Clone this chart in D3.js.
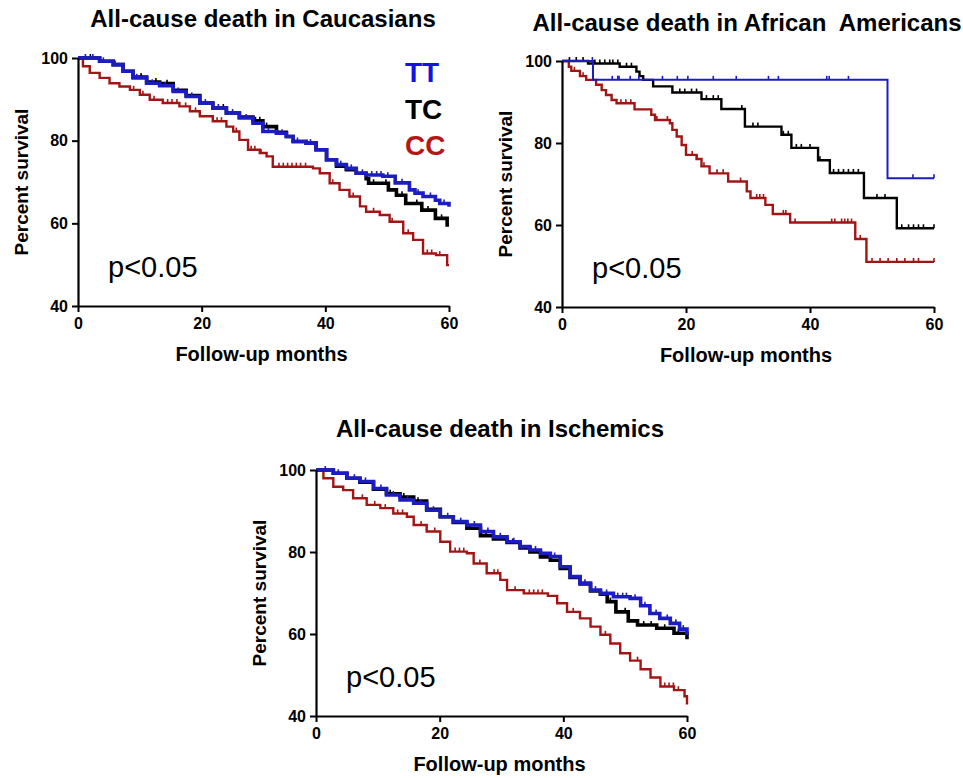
<!DOCTYPE html>
<html><head><meta charset="utf-8">
<script src="https://cdn.jsdelivr.net/npm/d3@7"></script>
<style>body{margin:0;background:#fff}svg{display:block}text{font-family:"Liberation Sans",Arial,sans-serif}</style>
</head><body>
<svg id="c" width="963" height="778"></svg>
<script>
// ---------- data (months, percent survival) ----------
const xTicks = [0, 20, 40, 60];
const yTicks = [40, 60, 80, 100];
const groups = ["TT", "TC", "CC"];
const titles = ["All-cause death in Caucasians", "All-cause death in African  Americans", "All-cause death in Ischemics"];
const pLabel = "p<0.05";

const cauTT = [[0,100],[3.5,99.2],[5.7,98.4],[7.3,96.8],[8.9,95.2],[11.1,93.9],[13.2,93.3],[15.4,91.9],[17.5,90.7],[19.7,89.1],[21.8,87.9],[24.0,86.7],[26.1,85.5],[28.3,84.2],[29.9,82.2],[32.1,81.8],[33.7,81.0],[34.8,79.8],[36.9,79.4],[38.5,77.8],[40.2,75.4],[41.8,74.2],[43.4,73.3],[45.0,72.1],[46.6,71.7],[49.3,71.4],[51.3,69.8],[53.6,68.1],[54.5,67.3],[55.8,66.5],[57.8,65.6],[58.5,64.8],[60,64.0]];
const cauTC = [[0,100],[3.5,99.2],[5.7,98.4],[7.3,96.8],[8.9,95.4],[11.1,94.2],[13.2,93.8],[15.4,92.2],[17.5,90.9],[19.7,89.1],[21.8,87.9],[24.0,86.7],[26.1,85.7],[28.3,84.8],[29.9,83.4],[32.1,82.0],[33.7,81.0],[34.8,79.8],[36.9,79.4],[38.5,77.8],[40.2,75.4],[41.8,73.8],[43.4,73.0],[45.0,72.1],[46.6,70.8],[47.0,69.7],[50.2,68.1],[51.5,66.8],[53.0,64.8],[55.6,63.2],[57.8,61.2],[59.7,59.6],[60,59.6]];
const cauCC = [[0,100],[0.8,98],[1.9,96.4],[3.5,95.2],[5.1,93.9],[6.7,93.1],[8.4,92.3],[10.0,91.1],[11.6,89.9],[13.7,89.1],[16.4,88.3],[18.1,87.1],[19.7,85.9],[21.8,84.7],[24.0,83.4],[25.1,82.2],[26.1,80.2],[27.5,77.8],[29.4,77.0],[30.5,76.2],[31.5,73.7],[38.0,73.3],[39.1,72.1],[40.7,69.7],[42.3,68.1],[43.9,66.5],[45.6,64.1],[46.6,62.8],[48.8,62.0],[50.4,60.4],[52.6,57.6],[54.2,56.0],[55.8,52.7],[57.9,52.3],[59.7,49.9],[60,49.9]];
const cauTTc = [1.2,2.4,4.1,6.0,9.5,12.0,14.1,16.2,18.4,20.6,22.7,25.0,27.2,30.8,33.0,35.5,37.6,42.5,44.2,46.0,47.5,48.3,49.0,50.1,52.4,55.0,57.0,59.2];
const cauTCc = [2.0,10.2,12.6,14.4,23.5,28.7,29.4,30.5,47.8,49.8,52.4,54.8,56.6,58.8];
const cauCCc = [9.0,10.5,12.3,14.5,15.2,16.0,17.4,19.0,22.5,23.2,25.6,28.0,28.6,29.6,32.5,33.2,33.9,34.6,35.3,36.0,36.8,41.2,44.5,47.8,50.8,53.4,56.5,57.2,58.5];

const aaTT = [[0,100],[5.0,95.4],[52.5,71.4],[60,71.4]];
const aaTC = [[0,100],[4.2,99.4],[9.3,98.6],[12.0,97.4],[12.5,96.3],[13.1,95.4],[14.7,93.8],[17.8,92.3],[22.5,90.7],[25.7,88.3],[29.5,84.0],[35.4,82.0],[37.0,78.8],[41.3,75.8],[43.2,72.7],[48.7,66.6],[54.0,59.2],[60,59.2]];
const aaCC = [[0,100],[1.1,98.6],[1.5,97.6],[2.9,96.3],[3.9,95.4],[5.5,94.2],[6.4,92.9],[7.1,91.7],[8.0,90.5],[8.8,89.7],[11.7,88.2],[14.4,86.9],[15.0,85.6],[17.4,84.8],[17.8,83.2],[18.5,81.6],[19.3,79.5],[20.0,77.1],[21.7,76.1],[22.5,74.3],[23.8,72.6],[26.8,70.6],[29.8,68.2],[30.4,66.6],[32.8,64.9],[34.0,62.7],[36.8,60.6],[47.3,56.6],[49.1,51.0],[60,51.0]];
const aaTTc = [4.9,8.1,9.0,9.2,11.0,12.4,16.2,18.6,20.3,24.4,28.1,33.3,34.9,42.7,43.1,46.2,56.6,60];
const aaTCc = [1.2,2.3,3.4,5.3,6.1,6.9,7.7,8.2,9.0,10.4,11.2,19.0,19.8,20.9,21.7,23.3,24.4,25.2,29.0,30.8,31.6,35.7,36.5,37.8,38.6,40.0,41.6,43.8,44.6,45.4,46.2,47.0,47.8,50.8,52.1,54.8,55.9,56.7,57.5,58.3,60];
const aaCCc = [2.0,3.4,9.5,10.3,11.1,15.3,17.0,21.0,21.8,22.9,25.0,26.0,28.8,31.4,31.9,32.5,35.7,36.1,37.6,43.5,44.0,45.1,45.6,46.1,46.7,48.1,50.0,51.3,52.6,54.0,55.3,56.7,57.5,60];

const iscTT = [[0,100],[2.8,99.2],[5.0,98.0],[7.1,97.2],[9.3,95.5],[11.4,93.9],[13.6,92.7],[15.8,91.9],[17.9,90.2],[20.1,88.6],[22.2,87.4],[24.4,86.6],[26.6,85.0],[28.7,83.7],[30.9,82.5],[33.0,81.3],[34.6,80.5],[36.3,79.7],[37.9,78.9],[39.5,76.4],[41.1,74.0],[42.7,72.4],[44.4,70.7],[46.0,69.9],[48.1,69.1],[50.8,68.7],[52.5,66.9],[54.0,65.0],[55.6,63.8],[57.3,62.6],[58.8,61.2],[60,59.8]];
const iscTC = [[0,100],[2.8,99.2],[5.0,98.0],[7.1,97.0],[9.3,95.3],[11.4,94.2],[13.6,93.4],[15.8,92.4],[17.9,90.4],[20.1,88.6],[22.2,87.2],[24.4,85.8],[26.6,84.0],[28.7,83.2],[30.9,82.3],[33.0,81.0],[34.6,80.0],[36.3,78.8],[37.9,78.0],[39.5,76.0],[41.1,73.8],[42.7,72.2],[44.4,70.5],[46.0,69.7],[47.1,67.9],[48.5,65.4],[50.5,63.2],[52.0,62.2],[55.1,61.4],[57.9,60.2],[60,58.7]];
const iscCC = [[0,100],[1.2,98.0],[2.8,95.9],[4.4,95.1],[6.0,93.1],[8.2,91.5],[10.4,90.7],[12.5,89.4],[14.7,88.6],[15.8,86.6],[17.9,85.0],[20.1,82.5],[21.7,80.1],[24.4,79.7],[25.5,77.2],[27.6,74.8],[29.8,73.2],[30.9,70.7],[33.6,69.9],[37.5,69.3],[39.0,67.5],[40.6,65.4],[42.7,63.8],[44.4,61.8],[46.0,59.8],[47.6,57.7],[49.2,55.3],[50.8,53.5],[52.5,51.4],[54.1,49.4],[55.7,47.2],[57.9,46.3],[59.6,44.8],[60,42.8]];
const iscTTc = [1.5,3.6,6.2,8.0,10.5,12.5,14.8,16.9,19.0,21.3,23.4,25.6,27.8,29.8,32.0,35.5,38.6,43.5,45.2,47.0,48.8,49.6,50.2,51.6,53.2,55.0,56.8,58.2,59.4];
const iscTCc = [12.0,14.2,16.5,24.9,27.5,31.8,47.6,50.0,53.0,54.2,56.4,58.6];
const iscCCc = [7.5,9.5,11.2,13.2,14.0,17.0,19.2,22.5,23.2,23.9,26.5,28.8,29.4,32.2,34.5,35.2,35.9,36.6,41.6,46.8,52.0,56.4,57.1,57.8,58.6];

// ---------- styling ----------
const colors = {TT: "#1c1cc4", TC: "#000000", CC: "#a31515"};
const legendColors = {TT: "#1414e0", TC: "#000000", CC: "#b31717"};
const FONT = '"Liberation Sans", Arial, sans-serif';
const svg = d3.select("#c");

function stepVal(data, t) {
  let v = data[0][1];
  for (const d of data) { if (d[0] <= t) v = d[1]; else break; }
  return v;
}

function panel(cfg) {
  const x = d3.scaleLinear().domain([0, 60]).range([cfg.x0, cfg.x1]);
  const y = d3.scaleLinear().domain([40, 100]).range([cfg.yb, cfg.yt]);
  const g = svg.append("g");

  const line = d3.line().x(d => x(d[0])).y(d => y(d[1])).curve(d3.curveStepAfter);
  cfg.series.forEach(s => {
    g.append("path").datum(s.data).attr("d", line)
      .attr("fill", "none").attr("stroke", colors[s.key])
      .attr("stroke-width", s.w).attr("stroke-linejoin", "miter");
    g.selectAll(null).data(s.cens).enter().append("line")
      .attr("x1", t => x(t)).attr("x2", t => x(t))
      .attr("y1", t => y(stepVal(s.data, t)))
      .attr("y2", t => y(stepVal(s.data, t)) - 4)
      .attr("stroke", colors[s.key]).attr("stroke-width", cfg.tw);
  });

  const ax = g.append("g").attr("transform", `translate(0,${cfg.yb})`)
    .call(d3.axisBottom(x).tickValues(xTicks).tickSize(6).tickSizeOuter(0).tickPadding(6));
  const ay = g.append("g").attr("transform", `translate(${cfg.x0},0)`)
    .call(d3.axisLeft(y).tickValues(yTicks).tickSize(6).tickSizeOuter(0).tickPadding(4));
  [ax, ay].forEach(a => {
    a.select(".domain").attr("stroke", "#000").attr("stroke-width", 2.2);
    a.selectAll(".tick line").attr("stroke", "#000").attr("stroke-width", 2);
    a.selectAll(".tick text").attr("fill", "#000").style("font-family", FONT)
      .style("font-size", "16px").style("font-weight", "bold");
  });

  g.append("text").attr("x", cfg.tx).attr("y", cfg.ty).attr("text-anchor", "middle")
    .style("font-family", FONT).style("font-size", "24px").style("font-weight", "bold")
    .style("white-space", "pre").attr("xml:space", "preserve")
    .text(cfg.title);
  g.append("text").attr("x", (cfg.x0 + cfg.x1) / 2 - 2).attr("y", cfg.yb + 55).attr("text-anchor", "middle")
    .style("font-family", FONT).style("font-size", "20px").style("font-weight", "bold")
    .text("Follow-up months");
  g.append("text").attr("transform", `translate(${cfg.x0 - 50},${(cfg.yt + cfg.yb) / 2}) rotate(-90)`)
    .attr("text-anchor", "middle")
    .style("font-family", FONT).style("font-size", "19px").style("font-weight", "bold")
    .text("Percent survival");
  g.append("text").attr("x", cfg.x0 + 30).attr("y", cfg.yb - 29)
    .style("font-family", FONT).style("font-size", "29px")
    .text(pLabel);
  return {x, y, g};
}

panel({x0: 78, x1: 449, yt: 58, yb: 306, tx: 263, ty: 27, title: titles[0], tw: 1.6,
  series: [{key: "CC", data: cauCC, cens: cauCCc, w: 2.4},
           {key: "TC", data: cauTC, cens: cauTCc, w: 3.6},
           {key: "TT", data: cauTT, cens: cauTTc, w: 3.6}]});
panel({x0: 562, x1: 934, yt: 61, yb: 307, tx: 747, ty: 31, title: titles[1], tw: 1.6,
  series: [{key: "CC", data: aaCC, cens: aaCCc, w: 2.4},
           {key: "TC", data: aaTC, cens: aaTCc, w: 2.4},
           {key: "TT", data: aaTT, cens: aaTTc, w: 2}]});
panel({x0: 316, x1: 687, yt: 470, yb: 716, tx: 500, ty: 437, title: titles[2], tw: 1.6,
  series: [{key: "CC", data: iscCC, cens: iscCCc, w: 2.4},
           {key: "TC", data: iscTC, cens: iscTCc, w: 3.6},
           {key: "TT", data: iscTT, cens: iscTTc, w: 3.6}]});

groups.forEach((k, i) => {
  svg.append("text").attr("x", 405).attr("y", 82 + i * 36.5)
    .style("font-family", FONT).style("font-size", "28px").style("font-weight", "bold")
    .attr("fill", legendColors[k]).text(k);
});
</script>
</body></html>
